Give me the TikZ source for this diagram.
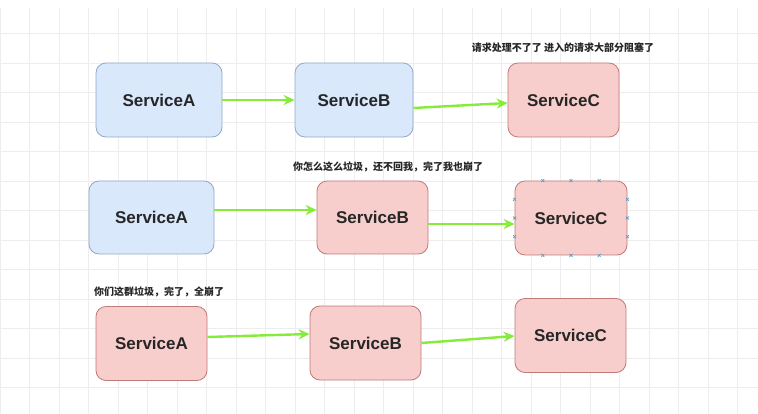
\documentclass[tikz,border=0pt]{standalone}
\usepackage{fontspec}
\setmainfont{Liberation Sans}
\newfontfamily\cjk{Noto Sans CJK SC}
\usetikzlibrary{arrows.meta, calc}

\definecolor{blueFill}{HTML}{DAE8FC}
\definecolor{blueLine}{HTML}{8FA9C9}
\definecolor{redFill}{HTML}{F8CECC}
\definecolor{redLine}{HTML}{C07A78}
\definecolor{arrowGreen}{HTML}{86EC3A}
\definecolor{gridLine}{HTML}{EDEDED}
\definecolor{handleBlue}{HTML}{5B9BC0}

\begin{document}
\begin{tikzpicture}[x=1pt, y=-1pt,
    svc/.style={rectangle, draw, rounded corners=10pt, minimum height=74pt,
                inner sep=0pt, line width=0.8pt, text=black!85,
                font=\bfseries\fontsize{17}{20}\selectfont},
    okbox/.style={svc, fill=blueFill, draw=blueLine},
    badbox/.style={svc, fill=redFill, draw=redLine},
    arr/.style={-{Stealth[length=11pt, width=10pt]}, draw=arrowGreen, line width=2.4pt},
    note/.style={font=\cjk\bfseries\fontsize{10}{12}\selectfont, text=black!85}
]
\useasboundingbox (0,0) rectangle (758,414);
\fill[white] (0,0) rectangle (758,414);

% background grid
\foreach \gx in {0,...,25}
    \draw[gridLine, line width=0.6pt] (29.5*\gx,8) -- (29.5*\gx,414);
\foreach \gy in {1,...,13}
    \draw[gridLine, line width=0.6pt] (0,4+29.5*\gy) -- (758,4+29.5*\gy);

% row 1
\node[okbox, minimum width=126pt]  (a1) at (159,100)   {ServiceA};
\node[okbox, minimum width=118pt]  (b1) at (354,100)   {ServiceB};
\node[badbox, minimum width=111pt] (c1) at (563.5,100) {ServiceC};
\node[note] (n1) at (563,48) {请求处理不了了 进入的请求大部分阻塞了};

\draw[arr] (a1.east) -- (b1.west);
\draw[arr] ([yshift=-8pt]b1.east) -- ([yshift=-3pt]c1.west);

% row 2
\node[okbox, minimum width=125pt, minimum height=73pt]  (a2) at (151.5,217.5) {ServiceA};
\node[badbox, minimum width=111pt, minimum height=73pt] (b2) at (372.5,217.5) {ServiceB};
\node[badbox, minimum width=112pt] (c2) at (571,218) {ServiceC};
\node[note] (n2) at (388,167) {你怎么这么垃圾，还不回我，完了我也崩了};

\draw[arr] ([yshift=7.5pt]a2.east) -- ([yshift=7.5pt]b2.west);
\draw[arr] ([yshift=-6.5pt]b2.east) -- ([yshift=-6pt]c2.west);

% selection handles on c2
\foreach \t in {0.25,0.5,0.75} {
    \foreach \p in {($(c2.north west)!\t!(c2.north east)$), ($(c2.south west)!\t!(c2.south east)$),
                    ($(c2.north west)!\t!(c2.south west)$), ($(c2.north east)!\t!(c2.south east)$)}
        \draw[handleBlue, line width=0.6pt] \p ++(-1.5,-1.5) -- ++(3,3) \p ++(-1.5,1.5) -- ++(3,-3);
}

% row 3
\node[badbox, minimum width=111pt] (a3) at (151.5,343.5) {ServiceA};
\node[badbox, minimum width=111pt] (b3) at (365.5,343)   {ServiceB};
\node[badbox, minimum width=111pt] (c3) at (570.5,335.5) {ServiceC};
\node[note] (n3) at (159,292) {你们这群垃圾，完了，全崩了};

\draw[arr] ([yshift=6.5pt]a3.east) -- ([yshift=9pt]b3.west);
\draw[arr] (b3.east) -- ([yshift=-0.5pt]c3.west);
\end{tikzpicture}
\end{document}
